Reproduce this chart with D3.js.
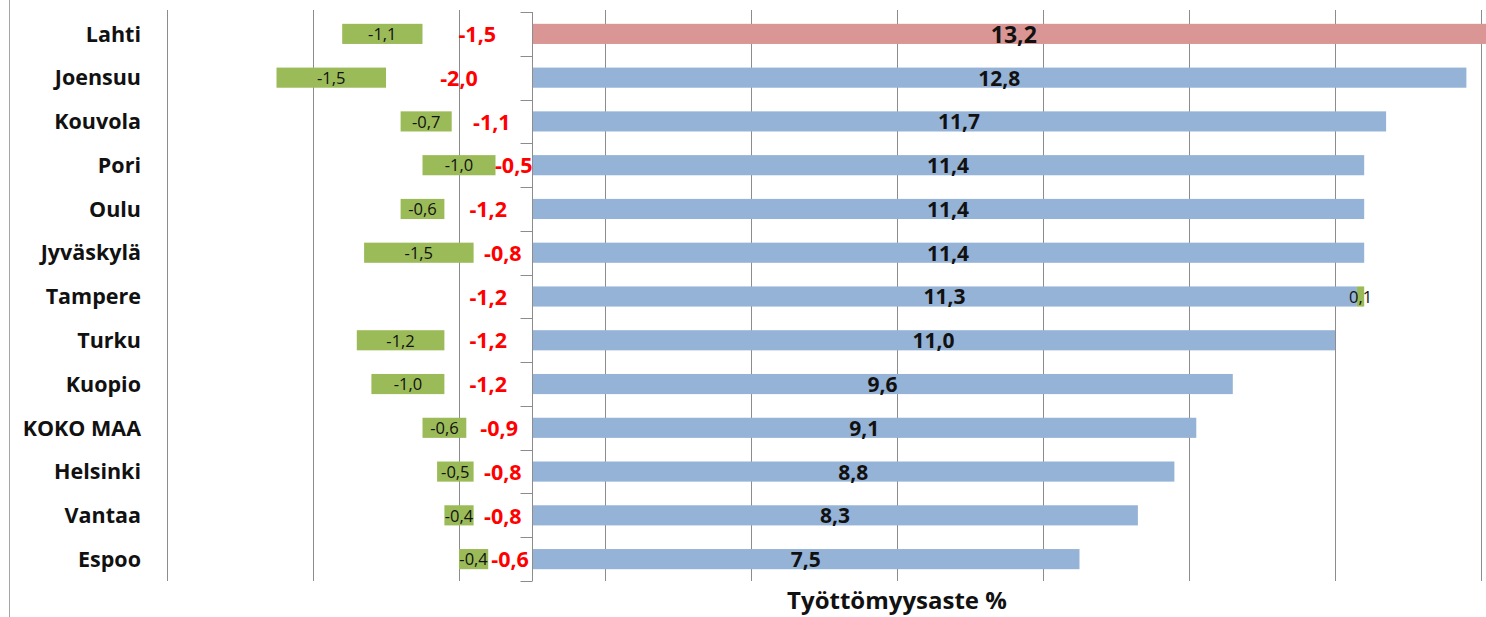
<!DOCTYPE html>
<html>
<head>
<meta charset="utf-8">
<script src="https://cdn.jsdelivr.net/npm/d3@7"></script>
<style>
  body { margin: 0; background: #fff; }
  text { font-family: "Open Sans", Lato, sans-serif; }
</style>
</head>
<body>
<div id="chart"></div>
<script>
// values
var cities = ["Lahti", "Joensuu", "Kouvola", "Pori", "Oulu", "Jyväskylä", "Tampere",
              "Turku", "Kuopio", "KOKO MAA", "Helsinki", "Vantaa", "Espoo"];
var rate = [13.2, 12.8, 11.7, 11.4, 11.4, 11.4, 11.3, 11.0, 9.6, 9.1, 8.8, 8.3, 7.5];
var redChange = [-1.5, -2.0, -1.1, -0.5, -1.2, -0.8, -1.2, -1.2, -1.2, -0.9, -0.8, -0.8, -0.6];
var greenChange = [-1.1, -1.5, -0.7, -1.0, -0.6, -1.5, 0.1, -1.2, -1.0, -0.6, -0.5, -0.4, -0.4];
var gridValues = [-5, -3, -1, 1, 3, 5, 7, 9, 11, 13, 15];
var highlight = "Lahti";
var axisTitle = "Työttömyysaste %";

var width = 1486;
var height = 617;

var svg = d3.select("#chart")
    .append("svg")
    .attr("width", width)
    .attr("height", height);

var x = d3.scaleLinear().domain([-5, 15]).range([167, 1627]);
var y = d3.scaleBand().domain(cities).range([12, 581])
    .paddingInner(0.54).paddingOuter(0.27);

var fmt = function (v) { return d3.format(".1f")(v).replace(".", ",").replace("−", "-"); };

var rows = cities.map(function (c, i) {
    return { city: c, red: redChange[i], blue: rate[i], green: greenChange[i] };
});

var stack = d3.stack()
    .keys(["red", "blue", "green"])
    .offset(d3.stackOffsetDiverging);
var layers = stack(rows);

// frame line on the left
svg.append("line")
    .attr("x1", 9.5).attr("x2", 9.5)
    .attr("y1", 0).attr("y2", height)
    .attr("stroke", "#a6a6a6");

// vertical gridlines
svg.selectAll(".grid")
    .data(gridValues)
    .enter().append("line")
    .attr("class", "grid")
    .attr("x1", function (d) { return Math.round(x(d)) + 0.5; })
    .attr("x2", function (d) { return Math.round(x(d)) + 0.5; })
    .attr("y1", 10).attr("y2", 581)
    .attr("stroke", "#8c8c8c")
    .attr("stroke-width", 1);

var fills = { red: "none", blue: "#95b3d7", green: "#9bbb59" };

layers.forEach(function (layer) {
    svg.append("g").selectAll("rect")
        .data(layer)
        .enter().append("rect")
        .attr("x", function (d) { return x(Math.min(d[0], d[1])); })
        .attr("y", function (d) { return y(d.data.city); })
        .attr("width", function (d) { return Math.abs(x(d[1]) - x(d[0])); })
        .attr("height", y.bandwidth())
        .attr("fill", function (d) {
            if (layer.key === "blue" && d.data.city === highlight) return "#d99694";
            return fills[layer.key];
        });
});

// category axis at zero
var x0 = Math.round(x(0)) + 0.5;
svg.append("line")
    .attr("x1", x0).attr("x2", x0)
    .attr("y1", y.range()[0]).attr("y2", y.range()[1])
    .attr("stroke", "#8c8c8c");
var bounds = cities.map(function (c) { return y(c) - (y.step() - y.bandwidth()) / 2; });
bounds.push(y.range()[1]);
svg.selectAll(".tick")
    .data(bounds)
    .enter().append("line")
    .attr("x1", x0 - 12).attr("x2", x0)
    .attr("y1", function (d) { return Math.round(d) + 0.5; })
    .attr("y2", function (d) { return Math.round(d) + 0.5; })
    .attr("stroke", "#8c8c8c");

// category labels
svg.selectAll(".cat")
    .data(cities)
    .enter().append("text")
    .attr("x", 141)
    .attr("y", function (d) { return y(d) + y.bandwidth() / 2; })
    .attr("dy", "0.36em")
    .attr("text-anchor", "end")
    .attr("font-size", 21.5)
    .attr("font-weight", "bold")
    .attr("fill", "#111")
    .text(function (d) { return d; });

// labels for every segment, centred on it
var labelStyle = {
    red: { size: 21.5, weight: "bold", color: "#ff0000" },
    blue: { size: 21, weight: "bold", color: "#111" },
    green: { size: 16.5, weight: "normal", color: "#111" }
};
layers.forEach(function (layer) {
    var st = labelStyle[layer.key];
    svg.append("g").selectAll("text")
        .data(layer)
        .enter().append("text")
        .attr("x", function (d) { return (x(d[0]) + x(d[1])) / 2; })
        .attr("y", function (d) { return y(d.data.city) + y.bandwidth() / 2; })
        .attr("dy", "0.38em")
        .attr("text-anchor", "middle")
        .attr("font-size", function (d) {
            return layer.key === "blue" && d.data.city === highlight ? st.size + 2 : st.size;
        })
        .attr("font-weight", st.weight)
        .attr("fill", st.color)
        .text(function (d) { return fmt(d.data[layer.key]); });
});

// axis title
svg.append("text")
    .attr("x", x(5))
    .attr("y", 609)
    .attr("text-anchor", "middle")
    .attr("font-size", 24)
    .attr("font-weight", "bold")
    .attr("fill", "#111")
    .text(axisTitle);
</script>
</body>
</html>
